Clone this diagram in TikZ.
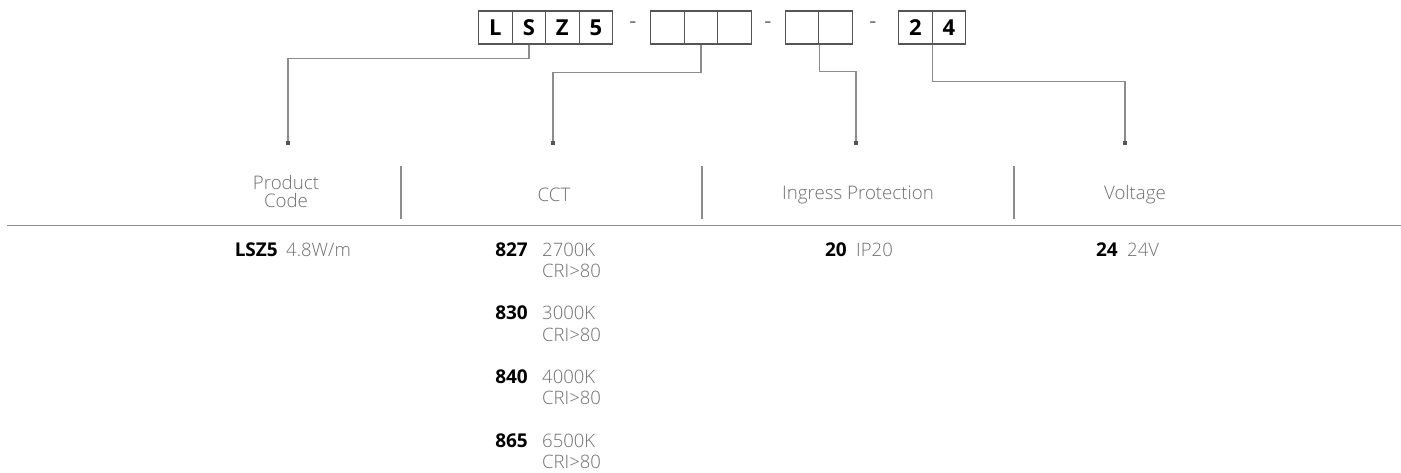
\documentclass[tikz,border=0pt]{standalone}
\usepackage{fontspec}
\setmainfont{Open Sans}
\newfontfamily\lightfont{Open Sans Light}
\definecolor{boxline}{HTML}{555555}
\definecolor{conline}{HTML}{8C8C8C}
\definecolor{lighttext}{HTML}{6E6E6E}
\begin{document}
\begin{tikzpicture}[x=1pt,y=-1pt,
  codebox/.style={draw=boxline,line width=1.2pt,minimum width=33.5pt,minimum height=33pt,inner sep=0pt,
    font=\fontsize{22}{24}\selectfont\bfseries,text=black,anchor=west},
  dashtxt/.style={font=\fontsize{22}{24}\selectfont,text=lighttext,inner sep=0pt},
  conn/.style={draw=conline,line width=1.4pt},
  endmark/.style={fill=boxline,minimum size=3.5pt,inner sep=0pt,draw=none},
  head/.style={font=\fontsize{18.7}{18}\lightfont,text=lighttext,align=center,inner sep=0pt},
  sep/.style={draw=conline,line width=1.1pt},
  code/.style={font=\fontsize{19}{22}\selectfont\bfseries,text=black,inner sep=0pt,anchor=base east},
  desc/.style={font=\fontsize{18.5}{21}\lightfont,text=lighttext,inner sep=0pt,anchor=base west}
]
\useasboundingbox (0,0) rectangle (1401,472);
% code boxes
\node[codebox] (b1) at (478,27.5) {L};
\node[codebox] (b2) at (511.5,27.5) {S};
\node[codebox] (b3) at (545,27.5) {Z};
\node[codebox] (b4) at (578.5,27.5) {5};
\node[dashtxt] (d1) at (633,25) {-};
\node[codebox] (b5) at (650,27.5) {};
\node[codebox] (b6) at (683.5,27.5) {};
\node[codebox] (b7) at (717,27.5) {};
\node[dashtxt] (d2) at (768,25) {-};
\node[codebox] (b8) at (784.5,27.5) {};
\node[codebox] (b9) at (818,27.5) {};
\node[dashtxt] (d3) at (873,25) {-};
\node[codebox] (b10) at (898,27.5) {2};
\node[codebox] (b11) at (931.5,27.5) {4};
% connector end points
\coordinate (e1) at (288,143);
\coordinate (e2) at (553,143);
\coordinate (e3) at (856,143);
\coordinate (e4) at (1125,143);
\draw[conn] (b2.south) -- ++(0,14) -| (e1);
\draw[conn] (b6.south) -- ++(0,28) -| (e2);
\draw[conn] (b8.south east) -- ++(0,27) -| (e3);
\draw[conn] (b10.south east) -- ++(0,37) -| (e4);
\node[endmark] (m1) at (e1) {};
\node[endmark] (m2) at (e2) {};
\node[endmark] (m3) at (e3) {};
\node[endmark] (m4) at (e4) {};
% headers
\node[head] (h1) at (286,191) {Product\\Code};
\node[head] (h2) at (554,195) {CCT};
\node[head] (h3) at (858,195) {Ingress Protection};
\node[head] (h4) at (1135,195) {Voltage};
\coordinate (s1t) at (401,166); \coordinate (s1b) at (401,219);
\coordinate (s2t) at (702,166); \coordinate (s2b) at (702,219);
\coordinate (s3t) at (1014,166); \coordinate (s3b) at (1014,219);
\draw[sep] (s1t) -- (s1b);
\draw[sep] (s2t) -- (s2b);
\draw[sep] (s3t) -- (s3b);
\coordinate (rl) at (7,225.7); \coordinate (rr) at (1401,225.7);
\draw[draw=conline,line width=1.5pt] (rl) -- (rr);
% rows
\node[code] (c1) at (278,256) {LSZ5};
\node[desc] (t1) at (286,256) {4.8W/m};
\node[code] (c2) at (528,256) {827};
\node[desc] (t2) at (542,256) {2700K};
\node[desc] (t2b) at (542,277.5) {CRI>80};
\node[code] (c3) at (528,319.7) {830};
\node[desc] (t3) at (542,319.7) {3000K};
\node[desc] (t3b) at (542,341.2) {CRI>80};
\node[code] (c4) at (528,383.3) {840};
\node[desc] (t4) at (542,383.3) {4000K};
\node[desc] (t4b) at (542,404.8) {CRI>80};
\node[code] (c5) at (528,447) {865};
\node[desc] (t5) at (542,447) {6500K};
\node[desc] (t5b) at (542,468.5) {CRI>80};
\node[code] (c6) at (847,256) {20};
\node[desc] (t6) at (856,256) {IP20};
\node[code] (c7) at (1118,256) {24};
\node[desc] (t7) at (1127,256) {24V};
\end{tikzpicture}
\end{document}
